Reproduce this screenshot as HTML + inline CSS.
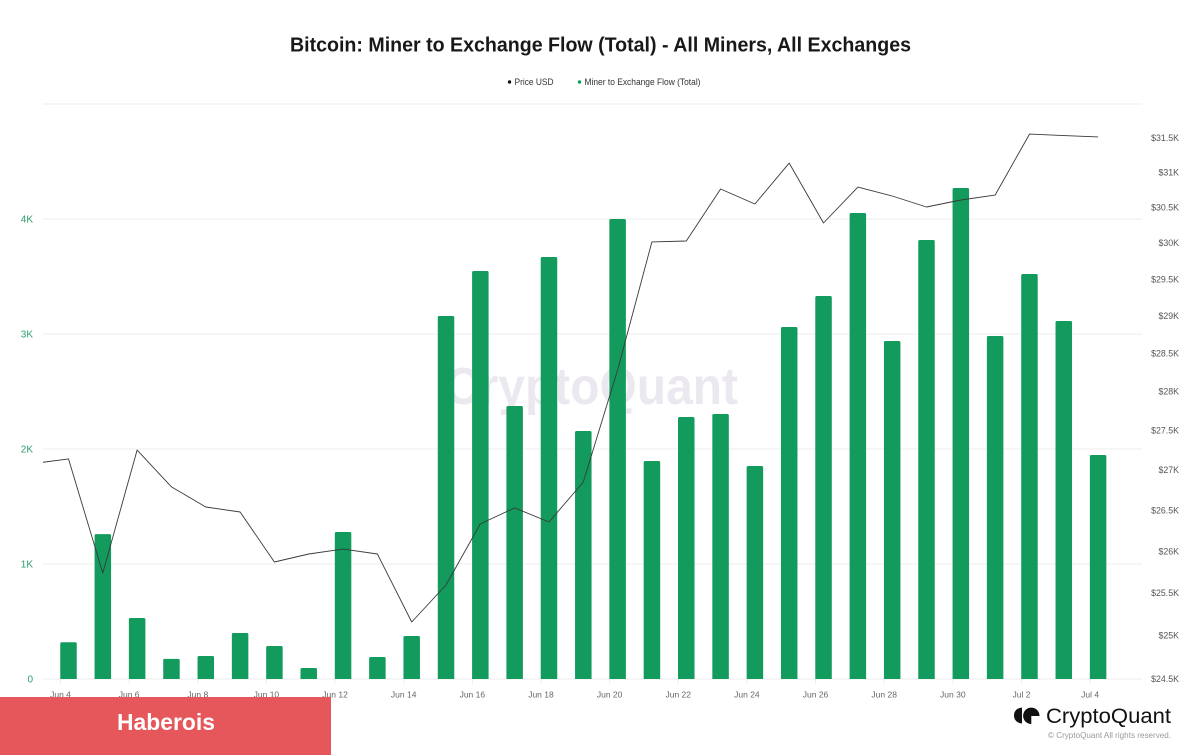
<!DOCTYPE html>
<html lang="en">
<head>
<meta charset="utf-8">
<title>Bitcoin: Miner to Exchange Flow (Total)</title>
<style>
html,body{margin:0;padding:0;background:#fff;}
svg{display:block;font-family:"Liberation Sans",sans-serif;}
</style>
</head>
<body>
<svg id="chart" xmlns="http://www.w3.org/2000/svg" width="1200" height="756" viewBox="0 0 1200 756">
  <rect x="0" y="0" width="1200" height="756" fill="#ffffff"/>
  <text x="290" y="51.5" font-size="20" font-weight="700" fill="#181818" textLength="621" lengthAdjust="spacingAndGlyphs">Bitcoin: Miner to Exchange Flow (Total) - All Miners, All Exchanges</text>
  <g>
    <g>
      <circle cx="509.5" cy="82" r="1.7" fill="#111"/>
      <text x="514.5" y="85" font-size="9" fill="#333" textLength="39" lengthAdjust="spacingAndGlyphs">Price USD</text>
    </g>
    <g>
      <circle cx="579.5" cy="82" r="1.7" fill="#129b5d"/>
      <text x="584.5" y="85" font-size="9" fill="#333" textLength="116" lengthAdjust="spacingAndGlyphs">Miner to Exchange Flow (Total)</text>
    </g>
  </g>
  <g id="grid"></g>
  <text x="445" y="404" font-size="52" font-weight="700" fill="#ebe9ef" textLength="293" lengthAdjust="spacingAndGlyphs">CryptoQuant</text>
  <g id="bars"></g>
  <g id="line"></g>
  <g id="xaxis"></g>
  <g id="yleft"></g>
  <g id="yright"></g>
  <rect x="0" y="697" width="331" height="58" fill="#e5575a"/>
  <text x="117" y="730" font-size="23" font-weight="700" fill="#ffffff" textLength="98" lengthAdjust="spacingAndGlyphs">Haberois</text>
  <g>
    <path d="M1022 707.5 V723.5 C1017 723 1014 720 1014 715.5 C1014 711 1017 708 1022 707.5 Z" fill="#111"/>
    <path d="M1039.5 716 A8.2 8.2 0 1 0 1031.3 724 L1031.3 716 Z" fill="#111"/>
    <text x="1046" y="723" font-size="21" fill="#111" textLength="125" lengthAdjust="spacingAndGlyphs">CryptoQuant</text>
    <text x="1048" y="738" font-size="8.5" fill="#9a9a9a" textLength="123" lengthAdjust="spacingAndGlyphs">© CryptoQuant All rights reserved.</text>
  </g>
</svg>
<script>
var flowValues = [320,1260,530,175,200,400,287,96,1278,191,374,3157,3548,2374,3670,2157,4000,1896,2278,2304,1852,3061,3330,4052,2939,3817,4270,2983,3522,3113,1948];
/* First price is the day before the first bar; it is clipped at the plot edge. */
var priceValues = [27080,27137,25737,27248,26786,26538,26476,25868,25964,26024,25964,25157,25593,26330,26526,26353,26847,28281,30015,30028,30762,30548,31134,30279,30789,30661,30505,30605,30675,31556,31534,31515];
var xTickLabels = ["Jun 4","Jun 6","Jun 8","Jun 10","Jun 12","Jun 14","Jun 16","Jun 18","Jun 20","Jun 22","Jun 24","Jun 26","Jun 28","Jun 30","Jul 2","Jul 4"];
var flowTicks = [0,1000,2000,3000,4000];
var flowTickLabels = ["0","1K","2K","3K","4K"];
var priceTicks = [24500,25000,25500,26000,26500,27000,27500,28000,28500,29000,29500,30000,30500,31000,31500];
var priceTickLabels = ["$24.5K","$25K","$25.5K","$26K","$26.5K","$27K","$27.5K","$28K","$28.5K","$29K","$29.5K","$30K","$30.5K","$31K","$31.5K"];

var NS = "http://www.w3.org/2000/svg";
var plotLeft = 43, plotRight = 1142, plotTop = 104, plotBottom = 679;
function xScale(i){ return 68.5 + 34.32 * i; }
function yFlow(v){ return plotBottom - v * 0.1150; }
function yPrice(p){ return plotBottom - 2153 * Math.log(p / 24500); }
function make(tag, attrs, parent){
  var el = document.createElementNS(NS, tag);
  for (var k in attrs) el.setAttribute(k, attrs[k]);
  parent.appendChild(el);
  return el;
}

var grid = document.getElementById("grid");
var gridYs = flowTicks.map(yFlow).concat([plotTop]);
gridYs.forEach(function(y){
  var l = make("line", {x1: plotLeft, x2: plotRight, y1: y, y2: y, stroke: "#eeeeee", "stroke-width": 1}, grid);
  
  
});

var bars = document.getElementById("bars");
var barWidth = 16.5;
flowValues.forEach(function(v, i){
  var cx = xScale(i), top = yFlow(v), r = 1.5;
  var x0 = cx - barWidth / 2, x1 = cx + barWidth / 2;
  var d = "M" + x0 + " " + plotBottom + "V" + (top + r) + "Q" + x0 + " " + top + " " + (x0 + r) + " " + top +
          "H" + (x1 - r) + "Q" + x1 + " " + top + " " + x1 + " " + (top + r) + "V" + plotBottom + "Z";
  var b = make("path", {d: d, fill: "#129b5d"}, bars);
  
  
});

var lineGroup = document.getElementById("line");
var defs = make("defs", {}, lineGroup);
var clip = make("clipPath", {id: "plot-clip"}, defs);
make("rect", {x: plotLeft, y: plotTop, width: plotRight - plotLeft, height: plotBottom - plotTop}, clip);
var pts = priceValues.map(function(p, i){ return xScale(i - 1).toFixed(1) + "," + yPrice(p).toFixed(1); }).join(" ");
var priceLine = make("polyline", {points: pts, fill: "none", stroke: "#3a3a3a", "stroke-width": 0.9, "stroke-linejoin": "round", "clip-path": "url(#plot-clip)"}, lineGroup);



var xaxis = document.getElementById("xaxis");
xTickLabels.forEach(function(label, i){
  var x = xScale(i * 2) - 8;
  var tick = make("line", {x1: x, x2: x, y1: plotBottom, y2: plotBottom + 5, stroke: "#eeeeee", "stroke-width": 1}, xaxis);
  
  
  var t = make("text", {x: x, y: 697.5, "font-size": 8.5, fill: "#666666", "text-anchor": "middle"}, xaxis);
  
  
  t.textContent = label;
});

var yleft = document.getElementById("yleft");
flowTicks.forEach(function(v, i){
  var t = make("text", {x: 33, y: yFlow(v) + 3.5, "font-size": 10, fill: "#2f9e6c", "text-anchor": "end"}, yleft);
  
  
  t.textContent = flowTickLabels[i];
});

var yright = document.getElementById("yright");
priceTicks.forEach(function(p, i){
  var t = make("text", {x: 1179, y: yPrice(p) + 3.2, "font-size": 8.8, fill: "#555555", "text-anchor": "end"}, yright);
  
  
  t.textContent = priceTickLabels[i];
});
</script>
</body>
</html>
